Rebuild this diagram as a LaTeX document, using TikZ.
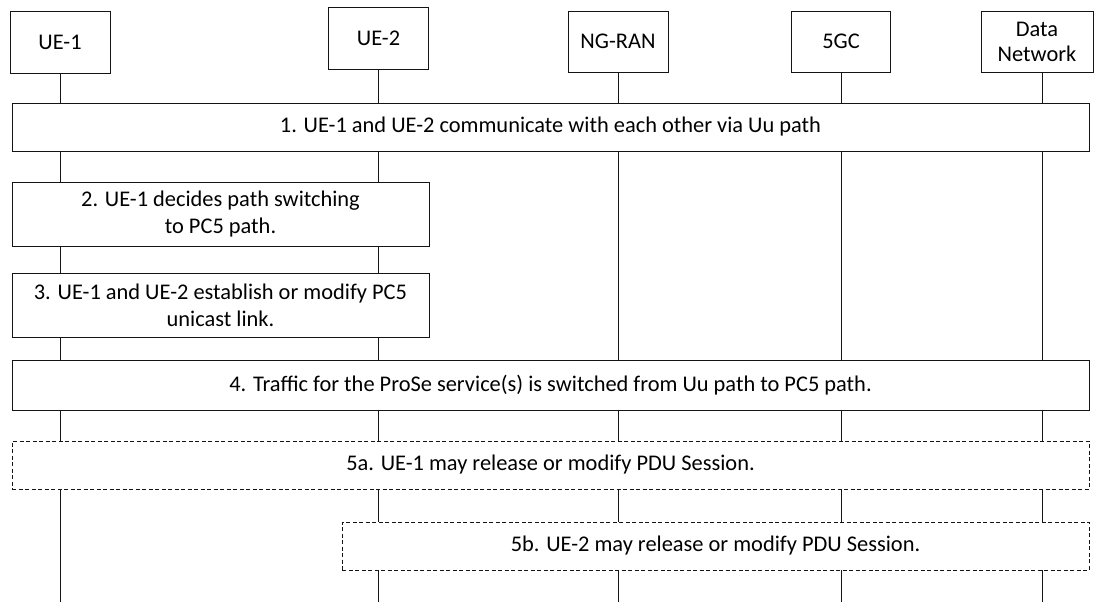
\documentclass[tikz,border=0pt]{standalone}
\usepackage{fontspec}
\setmainfont{Carlito}
\usepackage{tikz}
\usetikzlibrary{
    positioning,
    backgrounds,
    calc
}
\definecolor{Cline}{RGB}{20, 20, 20}
\tikzset{
    entity/.style={
        rectangle, draw=Cline, line width=0.8pt, fill=white,
        minimum width=100pt, minimum height=62pt, inner sep=2pt, outer sep=0pt,
        align=center, font=\fontsize{22.4}{27}\selectfont
    },
    stepbox/.style={
        rectangle, draw=Cline, line width=0.8pt, fill=white,
        minimum height=48pt, inner sep=2pt, outer sep=0pt,
        align=center, font=\fontsize{22.4}{27}\selectfont
    },
    optbox/.style={stepbox, dashed, dash pattern=on 4pt off 2.5pt},
    life/.style={line width=0.9pt, Cline},
}
\begin{document}
\begin{tikzpicture}[x=1pt, y=-1pt]
    \useasboundingbox (0,0) rectangle (1095,602);

    % ── 参与方 ──────────────────────────────────────
    \node [entity] (ue1) at (60,42) {UE-1};
    \node [entity] (ue2) at (378.5,38) {UE-2};
    \node [entity, minimum height=61pt] (ran) at (618,41.5) {NG-RAN};
    \node [entity, minimum height=61pt, minimum width=99pt] (cn) at (841,41.5) {5GC};
    \node [entity, minimum height=61pt, minimum width=112pt] (dn) at (1037,41.5) {Data\\[-2pt]Network};

    \coordinate (bottom) at (0,602);

    % ── 步骤 ─────────────────────────────────────────
    \node [stepbox, minimum width=1077pt] (s1) at (550.5,127)
        {1. UE-1 and UE-2 communicate with each other via Uu path};
    \node [stepbox, minimum width=417pt, minimum height=64pt] (s2) at (220.5,214)
        {2. UE-1 decides path switching\\to PC5 path.};
    \node [stepbox, minimum width=417pt, minimum height=64pt] (s3) at (220.5,305)
        {3. UE-1 and UE-2 establish or modify PC5\\unicast link.};
    \node [stepbox, minimum width=1077pt, minimum height=50pt] (s4) at (550.5,385)
        {4. Traffic for the ProSe service(s) is switched from Uu path to PC5 path.};
    \node [optbox, minimum width=1077pt] (s5a) at (550.5,465)
        {5a. UE-1 may release or modify PDU Session.};
    \node [optbox, minimum width=747pt] (s5b) at (715.5,546)
        {5b. UE-2 may release or modify PDU Session.};

    % ── 生命线 ───────────────────────────────────────
    \begin{scope}[on background layer]
        \foreach \who in {ue1, ue2, ran, cn}
            \draw [life] (\who.south) -- (\who.south |- bottom);
        \draw [life] ([xshift=5pt]dn.south) -- ([xshift=5pt]dn.south |- bottom);
    \end{scope}

\end{tikzpicture}
\end{document}
